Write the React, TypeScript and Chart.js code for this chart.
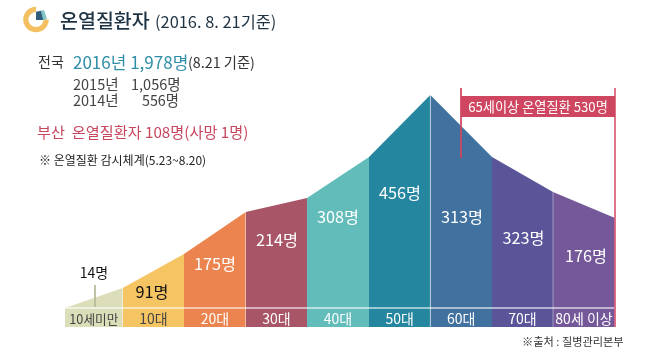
import React, { useEffect, useRef } from "react";
import { Chart, registerables } from "chart.js";

Chart.register(...registerables);

const FONT = '"Noto Sans CJK KR", "Noto Sans", sans-serif';

const categories = ["10세미만", "10대", "20대", "30대", "40대", "50대", "60대", "70대", "80세 이상"];
const valueLabels = ["14명", "91명", "175명", "214명", "308명", "456명", "313명", "323명", "176명"];
const edgePositions = [0, 57.7, 119, 180.7, 242, 304, 365.3, 427, 488, 550];
const edgeLevels = [0, 20, 54, 96, 110, 151, 213, 151, 116, 90];
const labelPositions = [29, 87, 150, 212, 273, 335, 397, 458.5, 521];
const labelLevels = [35, 16, 44, 68, 91, 115, 91, 70, 52];
const bandColors = ["#DCDDB9", "#F5C563", "#EC844F", "#A85568", "#62BCBA", "#25869F", "#40719F", "#5A5599", "#74589A"];
const stripTextColors = ["#444444", "#444444", "#ffffff", "#ffffff", "#ffffff", "#ffffff", "#ffffff", "#ffffff", "#ffffff"];
const labelColors = ["#111111", "#111111", "#ffffff", "#ffffff", "#ffffff", "#ffffff", "#ffffff", "#ffffff", "#ffffff"];

const bannerText = "65세이상 온열질환 530명";
const bannerRange = [396, 550];
const bannerLevels = [191, 212];
const markerTop = 220;
const markerLeftBottom = 150;
const stripBottom = -19;
const stripLabelLevel = -11;
const calloutPosition = 30;
const calloutLevels = [23, 1];
const separatorIndexes = [6, 8];

const labelPlugin = {
  id: "labels",
  afterDatasetsDraw(chart: any) {
    const { ctx, scales } = chart;
    const { x, y } = scales;
    ctx.save();
    ctx.textAlign = "center";
    ctx.textBaseline = "middle";
    categories.forEach((c, i) => {
      ctx.font = `400 ${i === 0 ? 12.7 : 14}px ${FONT}`;
      ctx.fillStyle = stripTextColors[i];
      ctx.fillText(c, x.getPixelForValue((edgePositions[i] + edgePositions[i + 1]) / 2), y.getPixelForValue(stripLabelLevel));
      ctx.font = `400 ${i === 0 ? 14 : 16.3}px ${FONT}`;
      ctx.fillStyle = labelColors[i];
      ctx.fillText(valueLabels[i], x.getPixelForValue(labelPositions[i]), y.getPixelForValue(labelLevels[i]));
    });
    ctx.font = `400 13.2px ${FONT}`;
    ctx.fillStyle = "#ffffff";
    ctx.fillText(
      bannerText,
      x.getPixelForValue((bannerRange[0] + bannerRange[1]) / 2),
      y.getPixelForValue((bannerLevels[0] + bannerLevels[1]) / 2)
    );
    ctx.restore();
  },
};

const base = { pointRadius: 0, tension: 0, clip: false as any };

export default function App() {
  const ref = useRef<HTMLCanvasElement>(null);
  useEffect(() => {
    document.body.style.margin = "0";
    const bands = categories.map((c, i) => ({
      ...base,
      order: 10,
      label: c,
      data: [
        { x: edgePositions[i], y: edgeLevels[i] },
        { x: edgePositions[i + 1], y: edgeLevels[i + 1] },
      ],
      borderWidth: 0,
      borderColor: "transparent",
      backgroundColor: bandColors[i],
      fill: "start",
    }));
    const separators = separatorIndexes.map((idx) => ({
      ...base,
      order: 5,
      label: "separator",
      data: [
        { x: edgePositions[idx], y: edgeLevels[idx] },
        { x: edgePositions[idx], y: stripBottom },
      ],
      borderColor: "rgba(255,255,255,0.14)",
      borderWidth: 1,
      fill: false,
    }));
    const chart = new Chart(ref.current!, {
      type: "line",
      data: {
        datasets: [
          ...bands,
          ...separators,
          {
            ...base,
            order: 1,
            label: "기준선",
            data: [
              { x: edgePositions[0], y: 0 },
              { x: edgePositions[9], y: 0 },
            ],
            borderColor: "rgba(255,255,255,0.55)",
            borderWidth: 2,
            fill: false,
          },
          {
            ...base,
            order: 1,
            label: "callout",
            data: [
              { x: calloutPosition, y: calloutLevels[0] },
              { x: calloutPosition, y: calloutLevels[1] },
            ],
            borderColor: "#B9B99A",
            borderWidth: 1,
            fill: false,
          },
          {
            ...base,
            order: 0,
            label: "banner",
            data: [
              { x: bannerRange[0], y: bannerLevels[1] },
              { x: bannerRange[1], y: bannerLevels[1] },
            ],
            borderWidth: 0,
            borderColor: "transparent",
            backgroundColor: "#CF4660",
            fill: { value: bannerLevels[0] },
          },
          {
            ...base,
            order: 0,
            label: "marker-left",
            data: [
              { x: bannerRange[0], y: markerTop },
              { x: bannerRange[0], y: markerLeftBottom },
            ],
            borderColor: "#CF4660",
            borderWidth: 1,
            fill: false,
          },
          {
            ...base,
            order: 0,
            label: "marker-right",
            data: [
              { x: bannerRange[1], y: markerTop },
              { x: bannerRange[1], y: stripBottom },
            ],
            borderColor: "#D9607A",
            borderWidth: 1,
            fill: false,
          },
        ],
      },
      options: {
        animation: false,
        responsive: false,
        layout: { padding: { left: 65, right: 53, top: 88, bottom: 29 } },
        plugins: { legend: { display: false }, tooltip: { enabled: false } },
        scales: {
          x: { type: "linear", display: false, min: 0, max: 550 },
          y: { type: "linear", display: false, min: stripBottom, max: markerTop },
        },
      },
      plugins: [labelPlugin],
    } as any);
    return () => chart.destroy();
  }, []);

  const t = (left: number, top: number, size: number, color: string, text: string, extra: any = {}) => (
    <div
      style={{
        position: "absolute",
        left,
        top,
        fontSize: size,
        color,
        lineHeight: 1,
        whiteSpace: "pre",
        fontFamily: FONT,
        transform: "translateY(-50%)",
        ...extra,
      }}
    >
      {text}
    </div>
  );

  return (
    <div style={{ position: "absolute", left: 0, top: 0, width: 668, height: 356, background: "#fff", overflow: "hidden" }}>
      <canvas ref={ref} width={668} height={356} style={{ position: "absolute", left: 0, top: 0, display: "block" }} />
      <svg width="30" height="30" style={{ position: "absolute", left: 21, top: 5 }}>
        <path d="M25.2 14.5 A10.2 10.2 0 1 1 15 4.3" fill="none" stroke="#F2C061" strokeWidth="5.2" />
        <path d="M20 5.7 L23 5 L26 14 L22.3 15 Z" fill="#7FC3C4" />
        <path d="M15 6.7 L20 5.7 L22.3 15 L15 15 Z" fill="#2E5F7A" />
      </svg>
      {t(60, 20, 19.5, "#1E3344", "온열질환자", { fontWeight: 500 })}
      {t(155, 21, 16.4, "#1E3344", "(2016. 8. 21기준)")}
      {t(38, 61, 14, "#333333", "전국")}
      {t(73, 61, 17, "#2F8EA8", "2016년 1,978명")}
      {t(188, 62, 14.3, "#333333", "(8.21 기준)")}
      {t(73, 84, 14.5, "#444444", "2015년")}
      {t(131, 84, 14.5, "#444444", "1,056명")}
      {t(73, 100, 14.5, "#444444", "2014년")}
      {t(142, 100, 14.3, "#444444", "556명")}
      {t(37, 132, 15.2, "#C8475F", "부산  온열질환자 108명(사망 1명)")}
      {t(39, 160, 12, "#222222", "※ 온열질환 감시체계(5.23~8.20)")}
      {t(522, 342, 11.2, "#333333", "※출처 : 질병관리본부")}
    </div>
  );
}
